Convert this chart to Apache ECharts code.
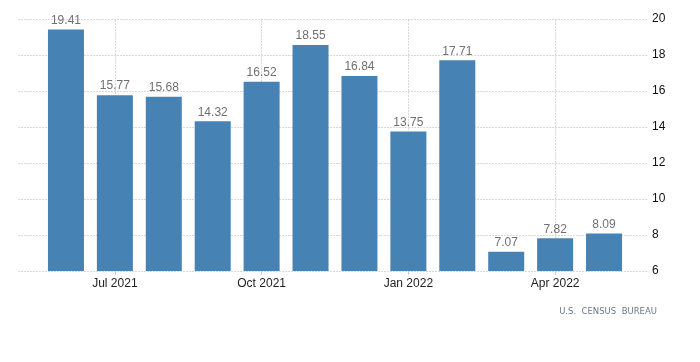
<!DOCTYPE html>
<html>
<head>
<meta charset="utf-8">
<script src="https://cdn.jsdelivr.net/npm/echarts@6/dist/echarts.min.js"></script>
<style>html,body{margin:0;padding:0;background:#fff}#c{width:700px;height:362px}</style>
</head>
<body>
<div id="c"></div>
<script>
var categories = ["Jun 2021","Jul 2021","Aug 2021","Sep 2021","Oct 2021","Nov 2021","Dec 2021","Jan 2022","Feb 2022","Mar 2022","Apr 2022","May 2022"];
var values = [19.41, 15.77, 15.68, 14.32, 16.52, 18.55, 16.84, 13.75, 17.71, 7.07, 7.82, 8.09];
var labeledCategories = ["Jul 2021","Oct 2021","Jan 2022","Apr 2022"];
var yMin = 6, yMax = 20, yStep = 2;
var sourceText = "U.S.  CENSUS  BUREAU";

function isLabeled(i){ return labeledCategories.indexOf(categories[i]) >= 0; }
var gridLine = {color: '#d9d9d9', type: [2,1], width: 1};

var chart = echarts.init(document.getElementById('c'), null, {renderer:'canvas'});
chart.setOption({
  animation: false,
  backgroundColor: '#ffffff',
  textStyle: {fontFamily: 'Arial, "Liberation Sans", sans-serif'},
  grid: [
    {left: 41.5, right: 71.5, top: 19, bottom: 91},
    {left: 18, right: 53, top: 19, bottom: 91}
  ],
  xAxis: [
    {
      gridIndex: 0, type: 'category', data: categories, boundaryGap: true,
      axisLine: {show: false},
      axisTick: {show: true, length: 4, alignWithLabel: true, interval: function(i){return isLabeled(i);}, lineStyle: {color: '#cccccc'}},
      splitLine: {show: false},
      axisLabel: {interval: function(i){return isLabeled(i);}, color: '#222222', fontSize: 12, margin: 7}
    },
    {gridIndex: 1, type: 'value', min: 0, max: 1, show: false}
  ],
  yAxis: [
    {gridIndex: 0, type: 'value', min: yMin, max: yMax, interval: yStep, show: false},
    {
      gridIndex: 1, type: 'value', min: yMin, max: yMax, interval: yStep, position: 'right',
      axisLine: {show: false}, axisTick: {show: false},
      axisLabel: {color: '#111111', fontSize: 12, margin: 5},
      splitLine: {show: true, lineStyle: gridLine}
    }
  ],
  series: [{
    type: 'bar', xAxisIndex: 0, yAxisIndex: 0, data: values,
    barWidth: 36,
    itemStyle: {color: '#4682b4'},
    label: {show: true, position: 'top', distance: 3, color: '#707070', fontSize: 12,
      formatter: function(p){return p.value.toFixed(2);}},
    markLine: {
      silent: true, symbol: 'none', z: 0,
      label: {show: false},
      lineStyle: gridLine,
      data: labeledCategories.map(function(c){return {xAxis: c};})
    }
  }],
  graphic: [{
    type: 'text', right: 43, top: 307,
    style: {text: sourceText, fill: '#6a7a8a', fontSize: 8.5, fontFamily: 'Verdana, "DejaVu Sans", sans-serif'}
  }]
});
</script>
</body>
</html>
